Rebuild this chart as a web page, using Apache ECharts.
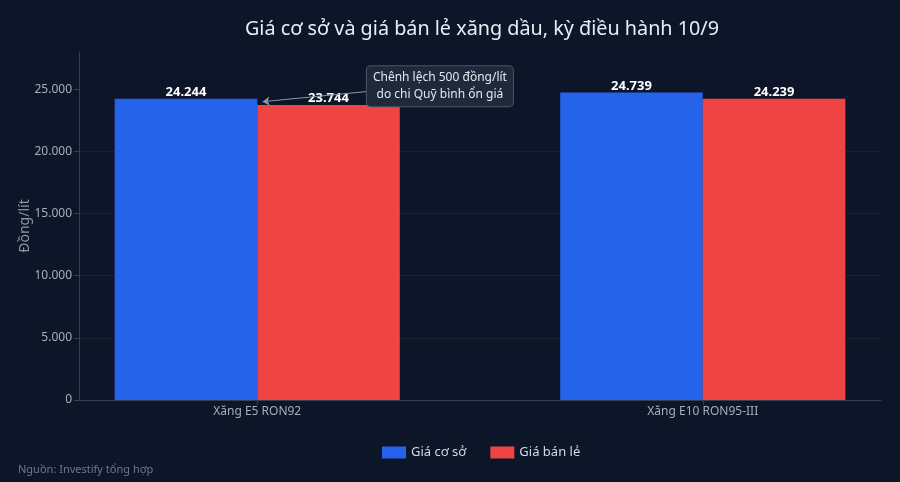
<!DOCTYPE html>
<html>
<head>
<meta charset="utf-8">
<script src="https://cdn.jsdelivr.net/npm/echarts@6/dist/echarts.min.js"></script>
<style>
  html, body { margin: 0; padding: 0; background: #0c1628; }
  #chart { width: 900px; height: 482px; }
</style>
</head>
<body>
<div id="chart"></div>
<script>
// dữ liệu
const categories = ['Xăng E5 RON92', 'Xăng E10 RON95-III'];
const giaCoSo = [24244, 24739];
const giaBanLe = [23744, 24239];
const yTicks = [0, 5000, 10000, 15000, 20000, 25000];
const noteText = 'Chênh lệch 500 đồng/lít\ndo chi Quỹ bình ổn giá';
const noteBox = [0.41, 25250];
const noteArrow = [[0.012, 24000], [0.252, 24840]];

const fmt = v => String(v).replace(/\B(?=(\d{3})+(?!\d))/g, '.');
const font = '"Noto Sans", "Open Sans", sans-serif';

const chart = echarts.init(document.getElementById('chart'));

const barLabel = {
  show: true, position: 'top', distance: 0,
  color: '#ffffff', fontSize: 13, fontWeight: 'bold', fontFamily: font,
  formatter: p => fmt(p.value[1])
};

const option = {
  backgroundColor: '#0c1628',
  textStyle: { fontFamily: font },
  title: {
    text: 'Giá cơ sở và giá bán lẻ xăng dầu, kỳ điều hành 10/9',
    left: 477,
    top: 14,
    textAlign: 'center',
    textStyle: { color: '#e8edf4', fontSize: 19.8, fontWeight: 'normal', fontFamily: font }
  },
  legend: {
    left: 377,
    top: 441,
    itemWidth: 24,
    itemHeight: 12,
    itemGap: 24,
    icon: 'rect',
    textStyle: { color: '#d3dae4', fontSize: 13, fontFamily: font },
    data: ['Giá cơ sở', 'Giá bán lẻ']
  },
  graphic: [{
    type: 'text',
    left: 18,
    top: 464,
    style: { text: 'Nguồn: Investify tổng hợp', fill: '#6b7a90', fontSize: 11, fontFamily: font }
  }],
  grid: { left: 79, right: 19, top: 52, bottom: 82 },
  xAxis: {
    type: 'value',
    min: -0.4,
    max: 1.4,
    splitLine: { show: false },
    axisLine: { show: true, onZero: false, lineStyle: { color: '#334155' } },
    axisTick: { show: true, length: 5, customValues: [0, 1], lineStyle: { color: '#334155' } },
    axisLabel: {
      customValues: [0, 1],
      color: '#a3aebd',
      fontSize: 12,
      margin: 6,
      formatter: v => categories[Math.round(v)] || ''
    }
  },
  yAxis: {
    type: 'value',
    min: 0,
    max: 28000,
    interval: 5000,
    name: 'Đồng/lít',
    nameLocation: 'middle',
    nameGap: 47,
    nameMoveOverlap: false,
    nameTextStyle: { color: '#8a97a8', fontSize: 14, fontFamily: font },
    axisLine: { show: true, onZero: false, lineStyle: { color: '#334155' } },
    axisTick: { show: true, length: 5, customValues: yTicks, lineStyle: { color: '#334155' } },
    axisLabel: {
      customValues: yTicks,
      color: '#a3aebd',
      fontSize: 12,
      margin: 7,
      formatter: v => fmt(v)
    },
    splitLine: { show: true, showMaxLine: false, showMinLine: false, lineStyle: { color: '#182233', width: 1 } }
  },
  series: [
    {
      name: 'Giá cơ sở',
      type: 'bar',
      barWidth: '32%',
      barGap: '0%',
      itemStyle: { color: '#2563eb' },
      label: barLabel,
      data: giaCoSo.map((v, i) => [i, v])
    },
    {
      name: 'Giá bán lẻ',
      type: 'bar',
      barWidth: '32%',
      barGap: '0%',
      itemStyle: { color: '#ef4444' },
      label: barLabel,
      data: giaBanLe.map((v, i) => [i, v])
    },
    {
      // chú thích chênh lệch
      name: 'note',
      type: 'line',
      data: [],
      silent: true,
      markLine: {
        silent: true,
        symbol: ['arrow', 'none'],
        symbolSize: 7,
        lineStyle: { color: '#8b96a6', width: 1, type: 'solid' },
        label: { show: false },
        data: [[{ coord: noteArrow[0] }, { coord: noteArrow[1] }]]
      },
      markPoint: {
        silent: true,
        symbol: 'rect',
        symbolSize: 1,
        itemStyle: { color: 'rgba(0,0,0,0)' },
        label: {
          show: true,
          position: 'inside',
          formatter: noteText,
          color: '#e2e8f0',
          fontSize: 12,
          lineHeight: 17,
          align: 'center',
          fontFamily: font,
          backgroundColor: '#1e293b',
          borderColor: '#4b5768',
          borderWidth: 1,
          borderRadius: 4,
          padding: [3, 6]
        },
        data: [{ coord: noteBox }]
      }
    }
  ]
};

chart.setOption(option);
</script>
</body>
</html>
